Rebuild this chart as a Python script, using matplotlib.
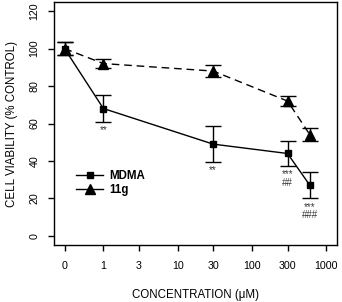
import numpy as np
import matplotlib
matplotlib.use('Agg')
from matplotlib import pyplot as plt
from matplotlib.lines import Line2D
from matplotlib.ticker import FixedLocator, NullLocator

plt.rcParams['font.family'] = ['Liberation Sans', 'DejaVu Sans']

# concentrations in uM (0 = control)
conc = [0, 1, 30, 300, 600]
mdma = [100, 68, 49, 44, 27]
mdma_err = [3.5, 7, 9.5, 6.5, 7]
g11 = [100, 92, 88, 72, 54]
g11_err = [3.5, 2.6, 3.2, 2.5, 3.5]
xticks = [0, 1, 3, 10, 30, 100, 300, 1000]
yticks = [0, 20, 40, 60, 80, 100, 120]
# significance marks under the MDMA points
sig = {1: '**', 30: '**', 300: '***\n##', 600: '***\n###'}


# log axis, with the control (0) put half a decade left of 1
def fwd(x):
    x = np.asarray(x, dtype=float)
    return np.log10(np.where(x <= 0, 0.3, x))


def inv(y):
    return 10 ** np.asarray(y, dtype=float)


fig = plt.figure(figsize=(3.42, 3.02), dpi=100)
ax = fig.add_axes([0.158, 0.189, 0.827, 0.804])
ax.set_xscale('function', functions=(fwd, inv))

ax.errorbar(conc, g11, yerr=g11_err, color='black', lw=1, ls=(0, (5.5, 3.5)),
            marker='^', ms=6.5, capsize=5.5, elinewidth=1, capthick=1)
ax.errorbar(conc, mdma, yerr=mdma_err, color='black', lw=1, ls='-',
            marker='s', ms=4.5, capsize=5.5, elinewidth=1, capthick=1)

for c, s in sig.items():
    i = conc.index(c)
    ax.annotate(s, (c, mdma[i] - mdma_err[i]), xytext=(0, -2.5),
                textcoords='offset points', ha='center', va='top',
                fontsize=7, color='#3a3a3a', linespacing=0.8)

ax.set_xlim(inv(-0.664), inv(3.141))
ax.set_ylim(-4.8, 124.8)
ax.xaxis.set_major_locator(FixedLocator(xticks))
ax.xaxis.set_minor_locator(NullLocator())
ax.set_xticklabels([str(t) for t in xticks])
ax.set_yticks(yticks)
ax.tick_params(axis='x', length=4.5, width=1, pad=7, labelsize=7.7)
ax.tick_params(axis='y', length=4.5, width=1, pad=6, labelsize=7.7,
               labelrotation=90)
for lab in ax.get_yticklabels():
    lab.set_va('center')
for sp in ax.spines.values():
    sp.set_linewidth(1)

ax.set_xlabel('CONCENTRATION (\u03bcM)', fontsize=8.3, labelpad=13)
ax.set_ylabel('CELL VIABILITY (% CONTROL)', fontsize=8.3, labelpad=8)

handles = [Line2D([], [], color='black', lw=1, marker='s', ms=4.5),
           Line2D([], [], color='black', lw=1, marker='^', ms=6.5)]
ax.legend(handles, ['MDMA', '11g'], loc='center left',
          bbox_to_anchor=(0.042, 0.255), frameon=False, handlelength=2.3,
          handletextpad=0.55, labelspacing=0.2,
          prop={'weight': 'bold', 'size': 8.3})

fig.savefig('out.png', dpi=100)
